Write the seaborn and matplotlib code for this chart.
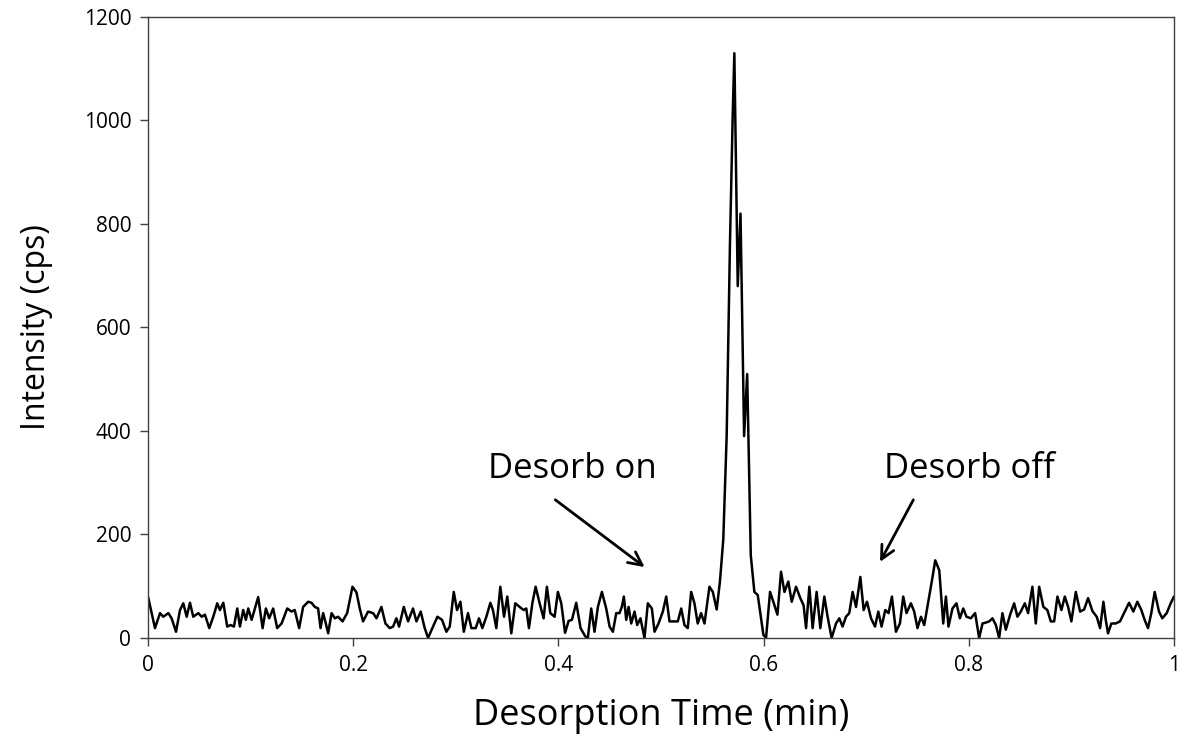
import matplotlib
matplotlib.use("Agg")
import matplotlib.pyplot as plt
import seaborn as sns
import pandas as pd

# Desorption time (min)
time_min = [
    0.0000, 0.0068, 0.0117, 0.0149, 0.0198, 0.0230, 0.0273, 0.0312, 0.0344, 0.0377,
    0.0409, 0.0441, 0.0490, 0.0523, 0.0555, 0.0597, 0.0636, 0.0675, 0.0701, 0.0734,
    0.0772, 0.0805, 0.0837, 0.0870, 0.0896, 0.0928, 0.0954, 0.0977, 0.1010, 0.1074,
    0.1117, 0.1149, 0.1181, 0.1220, 0.1259, 0.1302, 0.1357, 0.1399, 0.1430, 0.1473,
    0.1512, 0.1561, 0.1594, 0.1626, 0.1658, 0.1682, 0.1707, 0.1733, 0.1756, 0.1789,
    0.1821, 0.1853, 0.1896, 0.1941, 0.1993, 0.2032, 0.2064, 0.2096, 0.2145, 0.2194,
    0.2227, 0.2275, 0.2314, 0.2356, 0.2389, 0.2421, 0.2447, 0.2493, 0.2535, 0.2583,
    0.2616, 0.2658, 0.2697, 0.2730, 0.2778, 0.2821, 0.2866, 0.2908, 0.2941, 0.2980,
    0.3012, 0.3045, 0.3078, 0.3119, 0.3152, 0.3194, 0.3226, 0.3259, 0.3298, 0.3337,
    0.3362, 0.3395, 0.3434, 0.3470, 0.3502, 0.3541, 0.3580, 0.3622, 0.3661, 0.3687,
    0.3713, 0.3746, 0.3778, 0.3817, 0.3856, 0.3888, 0.3921, 0.3963, 0.3995, 0.4028,
    0.4065, 0.4100, 0.4132, 0.4174, 0.4216, 0.4262, 0.4287, 0.4320, 0.4352, 0.4385,
    0.4424, 0.4466, 0.4499, 0.4531, 0.4564, 0.4596, 0.4618, 0.4638, 0.4661, 0.4684,
    0.4710, 0.4742, 0.4768, 0.4800, 0.4839, 0.4872, 0.4911, 0.4937, 0.4976, 0.5018,
    0.5051, 0.5083, 0.5115, 0.5164, 0.5197, 0.5229, 0.5261, 0.5294, 0.5326, 0.5358,
    0.5391, 0.5424, 0.5472, 0.5505, 0.5543, 0.5575, 0.5607, 0.5640, 0.5672, 0.5699,
    0.5715, 0.5748, 0.5775, 0.5810, 0.5840, 0.5875, 0.5910, 0.5943, 0.5998, 0.6024,
    0.6063, 0.6095, 0.6135, 0.6170, 0.6203, 0.6241, 0.6274, 0.6316, 0.6358, 0.6390,
    0.6414, 0.6446, 0.6478, 0.6517, 0.6553, 0.6592, 0.6624, 0.6663, 0.6706, 0.6738,
    0.6770, 0.6803, 0.6835, 0.6868, 0.6901, 0.6943, 0.6975, 0.7008, 0.7047, 0.7086,
    0.7118, 0.7150, 0.7186, 0.7218, 0.7251, 0.7290, 0.7329, 0.7361, 0.7393, 0.7436,
    0.7468, 0.7500, 0.7534, 0.7566, 0.7614, 0.7647, 0.7673, 0.7712, 0.7751, 0.7777,
    0.7802, 0.7841, 0.7880, 0.7913, 0.7946, 0.7978, 0.8020, 0.8062, 0.8101, 0.8134,
    0.8170, 0.8199, 0.8231, 0.8264, 0.8296, 0.8328, 0.8361, 0.8403, 0.8442, 0.8474,
    0.8507, 0.8546, 0.8578, 0.8620, 0.8653, 0.8686, 0.8727, 0.8766, 0.8799, 0.8832,
    0.8864, 0.8903, 0.8936, 0.8968, 0.9000, 0.9043, 0.9085, 0.9124, 0.9163, 0.9205,
    0.9247, 0.9280, 0.9312, 0.9335, 0.9357, 0.9390, 0.9432, 0.9474, 0.9513, 0.9562,
    0.9604, 0.9643, 0.9682, 0.9714, 0.9747, 0.9779, 0.9812, 0.9854, 0.9886, 0.9929,
    0.9968, 1.0000,
]

# Intensity (cps)
intensity_cps = [
    80, 19, 48, 41, 48, 38, 12, 54, 67, 41,
    68, 41, 48, 41, 45, 19, 41, 67, 54, 68,
    22, 25, 22, 57, 22, 54, 35, 57, 35, 79,
    19, 57, 38, 57, 19, 28, 57, 51, 54, 19,
    60, 70, 68, 60, 57, 19, 48, 28, 9, 48,
    38, 41, 32, 48, 99, 88, 57, 32, 51, 48,
    38, 60, 28, 19, 22, 38, 22, 60, 32, 57,
    32, 51, 19, 0, 22, 41, 35, 12, 22, 89,
    54, 70, 12, 48, 19, 19, 38, 19, 41, 68,
    54, 19, 99, 41, 80, 9, 67, 60, 54, 57,
    19, 67, 99, 67, 38, 99, 48, 41, 89, 67,
    10, 33, 35, 68, 19, 3, 0, 57, 12, 60,
    89, 57, 22, 12, 48, 48, 60, 80, 35, 60,
    28, 51, 25, 38, 0, 67, 57, 12, 28, 51,
    80, 32, 32, 32, 57, 25, 19, 89, 67, 28,
    48, 28, 99, 89, 55, 110, 190, 390, 760, 1010,
    1130, 680, 820, 390, 510, 160, 89, 83, 6, 0,
    89, 70, 45, 128, 89, 109, 70, 99, 77, 63,
    19, 99, 19, 89, 19, 80, 41, 0, 28, 38,
    22, 41, 48, 89, 60, 118, 54, 70, 38, 22,
    51, 22, 54, 48, 80, 12, 28, 80, 48, 67,
    51, 19, 41, 25, 80, 118, 150, 131, 28, 80,
    22, 57, 67, 38, 57, 41, 38, 48, 0, 28,
    30, 32, 38, 25, 0, 48, 16, 45, 67, 41,
    51, 67, 48, 99, 28, 99, 60, 54, 32, 32,
    80, 54, 80, 60, 32, 89, 51, 55, 77, 52,
    41, 19, 70, 35, 9, 28, 28, 32, 48, 68,
    51, 70, 54, 35, 19, 48, 89, 51, 38, 48,
    67, 80,
]

x_ticks = [0, 0.2, 0.4, 0.6, 0.8, 1.0]
x_tick_labels = ["0", "0.2", "0.4", "0.6", "0.8", "1"]
y_ticks = [0, 200, 400, 600, 800, 1000, 1200]

annotation_texts = ["Desorb on", "Desorb off"]
annotation_text_xy = [(0.414, 326), (0.801, 326)]
arrow_tails = [(0.397, 267), (0.746, 267)]
arrow_heads = [(0.484, 137), (0.7135, 147)]

df = pd.DataFrame({"time": time_min, "intensity": intensity_cps})

sns.set_theme(style="white")
plt.rcParams["font.family"] = ["Open Sans", "DejaVu Sans"]

fig = plt.figure(figsize=(11.85, 7.36), dpi=100)
ax = fig.add_axes([0.1249, 0.1332, 0.9907 - 0.1249, 0.9769 - 0.1332])

sns.lineplot(data=df, x="time", y="intensity", ax=ax, color="black",
             linewidth=1.8, sort=False, estimator=None)

ax.set_xlim(0, 1)
ax.set_ylim(0, 1200)
ax.set_xticks(x_ticks)
ax.set_xticklabels(x_tick_labels)
ax.set_yticks(y_ticks)
ax.tick_params(axis="both", which="major", direction="out", length=6, width=1,
               color="#404040", labelsize=15, labelcolor="black", pad=6,
               bottom=True, left=True)
for s in ax.spines.values():
    s.set_visible(True)
    s.set_color("#404040")
    s.set_linewidth(1.0)

ax.set_xlabel("Desorption Time (min)", fontsize=26, color="black", labelpad=16)
ax.set_ylabel("Intensity (cps)", fontsize=23, color="black", labelpad=22)

for txt, (tx, ty) in zip(annotation_texts, annotation_text_xy):
    ax.text(tx, ty, txt, fontsize=25, ha="center", va="center", color="black")
for (x0, y0), (x1, y1) in zip(arrow_tails, arrow_heads):
    ax.annotate("", xy=(x1, y1), xytext=(x0, y0),
                arrowprops=dict(arrowstyle="->", color="black", lw=2.0,
                                mutation_scale=24, shrinkA=0, shrinkB=0))

fig.savefig("out.png", dpi=100)
